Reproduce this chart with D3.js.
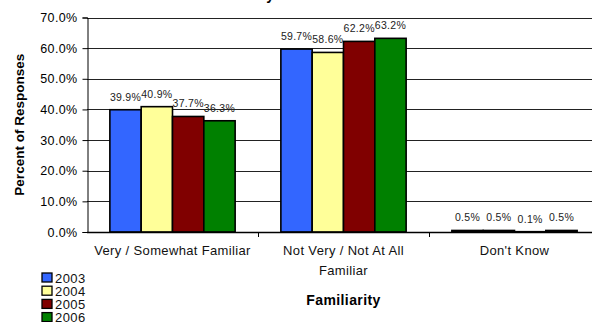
<!DOCTYPE html>
<html>
<head>
<meta charset="utf-8">
<script src="https://cdn.jsdelivr.net/npm/d3@7"></script>
<style>
  html, body { margin: 0; padding: 0; background: #fff; overflow: hidden; }
  svg { display: block; font-family: "Liberation Sans", Arial, sans-serif; }
</style>
</head>
<body>
<svg id="chart" width="592" height="322"></svg>
<script>
// Survey results: familiarity by year
const categories = ["Very / Somewhat Familiar", "Not Very / Not At All Familiar", "Don't Know"];
const categoryLines = [["Very / Somewhat Familiar"], ["Not Very / Not At All", "Familiar"], ["Don't Know"]];
const years = ["2003", "2004", "2005", "2006"];
const values2003 = [39.9, 59.7, 0.5];
const values2004 = [40.9, 58.6, 0.5];
const values2005 = [37.7, 62.2, 0.1];
const values2006 = [36.3, 63.2, 0.5];
const yTicks = [0, 10, 20, 30, 40, 50, 60, 70];
const colors = ["#3366FF", "#FFFF99", "#800000", "#008000"];

const series = [values2003, values2004, values2005, values2006];

const svg = d3.select("#chart");
const plotLeft = 87, plotRight = 600, plotTop = 17.5, plotBottom = 232;

const x0 = d3.scaleBand().domain(categories).range([plotLeft, plotRight]).paddingInner(0).paddingOuter(0);
const x1 = d3.scaleBand().domain(years).range([0, x0.bandwidth()]).paddingInner(0).paddingOuter(0.73);
const y = d3.scaleLinear().domain([0, 70]).range([plotBottom, plotTop]);

// chart title (sits above the visible area)
svg.append("text")
  .attr("x", 274).attr("y", 0)
  .attr("text-anchor", "end")
  .attr("font-size", 14).attr("font-weight", "bold")
  .text("Familiarity");

// gridlines
svg.append("g").selectAll("line").data(yTicks.filter(d => d > 0)).join("line")
  .attr("x1", plotLeft).attr("x2", plotRight)
  .attr("y1", d => Math.round(y(d)) + 0.5).attr("y2", d => Math.round(y(d)) + 0.5)
  .attr("stroke", "#222").attr("stroke-width", 1);

// y axis
const yAxis = d3.axisLeft(y).tickValues(yTicks).tickSize(5).tickFormat(d => d.toFixed(1) + "%");
const gy = svg.append("g").attr("transform", `translate(${plotLeft + 0.5},0)`).call(yAxis);
gy.select(".domain").attr("stroke", "#000");
gy.selectAll(".tick line").attr("stroke", "#000");
gy.selectAll(".tick text")
  .attr("font-size", 12.5).attr("letter-spacing", 0.35).attr("fill", "#000")
  .attr("font-family", "Liberation Sans, Arial, sans-serif").attr("x", -10);

// bars
const groups = svg.append("g").selectAll("g").data(categories).join("g")
  .attr("transform", d => `translate(${x0(d)},0)`);

groups.each(function (cat, ci) {
  const g = d3.select(this);
  years.forEach((yr, si) => {
    const v = series[si][ci];
    g.append("rect")
      .attr("x", x1(yr)).attr("width", x1.bandwidth())
      .attr("y", y(v)).attr("height", y(0) - y(v))
      .attr("fill", colors[si]).attr("stroke", "#000").attr("stroke-width", 1.6);
    g.append("text")
      .attr("x", x1(yr) + x1.bandwidth() / 2).attr("y", y(v) - 9)
      .attr("text-anchor", "middle").attr("font-size", 10.5).attr("letter-spacing", 0.3)
      .attr("fill", "#222")
      .text(v.toFixed(1) + "%");
  });
});

// x axis
svg.append("line").attr("x1", plotLeft).attr("x2", plotRight)
  .attr("y1", plotBottom + 0.5).attr("y2", plotBottom + 0.5).attr("stroke", "#000").attr("stroke-width", 1.5);
svg.append("g").selectAll("line").data(categories.slice(1)).join("line")
  .attr("x1", d => Math.round(x0(d)) + 0.5).attr("x2", d => Math.round(x0(d)) + 0.5)
  .attr("y1", plotBottom).attr("y2", plotBottom + 5).attr("stroke", "#000");

// category labels
categories.forEach((c, i) => {
  const t = svg.append("text")
    .attr("x", x0(c) + x0.bandwidth() / 2).attr("y", 255)
    .attr("text-anchor", "middle").attr("font-size", 13).attr("letter-spacing", 0.35)
    .attr("fill", "#111");
  categoryLines[i].forEach((ln, li) => {
    t.append("tspan").attr("x", x0(c) + x0.bandwidth() / 2).attr("dy", li === 0 ? 0 : 20).text(ln);
  });
});

// axis titles
svg.append("text")
  .attr("x", (plotLeft + plotRight) / 2).attr("y", 305)
  .attr("text-anchor", "middle").attr("font-size", 14).attr("font-weight", "bold")
  .attr("letter-spacing", 0.4)
  .text("Familiarity");
svg.append("text")
  .attr("transform", `translate(24,${(plotTop + plotBottom) / 2}) rotate(-90)`)
  .attr("text-anchor", "middle").attr("font-size", 13.5).attr("font-weight", "bold")
  .text("Percent of Responses");

// legend
const legend = svg.append("g").selectAll("g").data(years).join("g")
  .attr("transform", (d, i) => `translate(42,${273 + i * 13.2})`);
legend.append("rect").attr("width", 10).attr("height", 9)
  .attr("fill", (d, i) => colors[i]).attr("stroke", "#000").attr("stroke-width", 1.3);
legend.append("text").attr("x", 13).attr("y", 9.5).attr("font-size", 13).attr("letter-spacing", 0.4)
  .attr("fill", "#111").text(d => d);
</script>
</body>
</html>
